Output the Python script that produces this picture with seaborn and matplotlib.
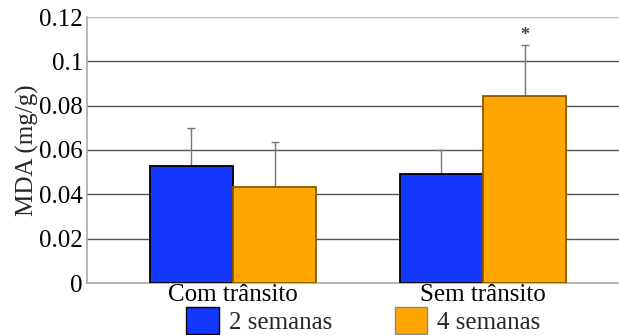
import matplotlib
matplotlib.use("Agg")
import matplotlib.pyplot as plt
import seaborn as sns
import pandas as pd
from matplotlib.patches import Patch

categories = ["Com trânsito", "Sem trânsito"]
groups = ["2 semanas", "4 semanas"]
mda_2sem = [0.0528, 0.0492]
mda_4sem = [0.0433, 0.0844]
sd_2sem = [0.0171, 0.0108]
sd_4sem = [0.0203, 0.0230]
yticks = [0, 0.02, 0.04, 0.06, 0.08, 0.1, 0.12]
ytick_labels = ["0", "0.02", "0.04", "0.06", "0.08", "0.1", "0.12"]

df = pd.DataFrame({
    "cat": categories * 2,
    "grupo": [groups[0]] * 2 + [groups[1]] * 2,
    "mda": mda_2sem + mda_4sem,
    "sd": sd_2sem + sd_4sem,
})

sns.set_style("white")
plt.rcParams["font.family"] = ["Liberation Serif", "DejaVu Serif"]

colors = {"2 semanas": "#1538FF", "4 semanas": "#FFA600"}
edges = {"2 semanas": "#000000", "4 semanas": "#8A5A00"}

fig = plt.figure(figsize=(6.19, 3.35), dpi=100)
ax = fig.add_axes([87 / 619, 1 - 283 / 335, (619 - 87) / 619, (283 - 17) / 335])

sns.barplot(data=df, x="cat", y="mda", hue="grupo", order=categories,
            hue_order=groups, palette=colors, saturation=1, width=0.667,
            errorbar=None, legend=False, ax=ax, zorder=3)

# one-sided error bars from each bar top
for i, g in enumerate(groups):
    sub = df[df["grupo"] == g].set_index("cat").loc[categories]
    for j, bar in enumerate(ax.containers[i]):
        bar.set_edgecolor(edges[g])
        bar.set_linewidth(1.3)
        xc = bar.get_x() + bar.get_width() / 2
        ax.errorbar(xc, sub["mda"].iloc[j], yerr=[[0], [sub["sd"].iloc[j]]],
                    fmt="none", ecolor="#777777", elinewidth=1.0,
                    capsize=3, capthick=1.0, zorder=2)

# significance mark above the 4-week "Sem trânsito" bar
b = ax.containers[1][1]
ax.text(b.get_x() + b.get_width() / 2, mda_4sem[1] + sd_4sem[1] + 0.0003, "*",
        ha="center", va="bottom", fontsize=13, fontweight="bold", color="#444444")

ax.set_ylim(0, 0.12)
ax.set_xlim(-0.584, 1.544)
ax.set_yticks(yticks)
ax.set_yticklabels(ytick_labels)
ax.yaxis.grid(True, color="#555555", linewidth=1.0, zorder=0)
gl = ax.get_ygridlines()
gl[0].set_color("#bbbbbb")
gl[-1].set_color("#bbbbbb")
ax.set_axisbelow(True)
ax.tick_params(axis="both", labelsize=18, length=0, pad=3, colors="black")
ax.tick_params(axis="x", pad=1)
ax.set_xlabel("")
ax.set_ylabel("MDA (mg/g)", fontsize=18, labelpad=0)
for s in ["top", "right"]:
    ax.spines[s].set_visible(False)
for s in ["left", "bottom"]:
    ax.spines[s].set_color("#aaaaaa")
    ax.spines[s].set_linewidth(1.2)

handles = [Patch(facecolor=colors[g], edgecolor=edges[g] if g == groups[0] else "#888888", label=g)
           for g in groups]
fig.legend(handles=handles, loc="lower center", bbox_to_anchor=(0.587, -0.064),
           ncol=2, frameon=False, fontsize=18, handlelength=1.3, handleheight=1.3,
           columnspacing=2.5, handletextpad=0.4)

fig.savefig("out.png", dpi=100)
